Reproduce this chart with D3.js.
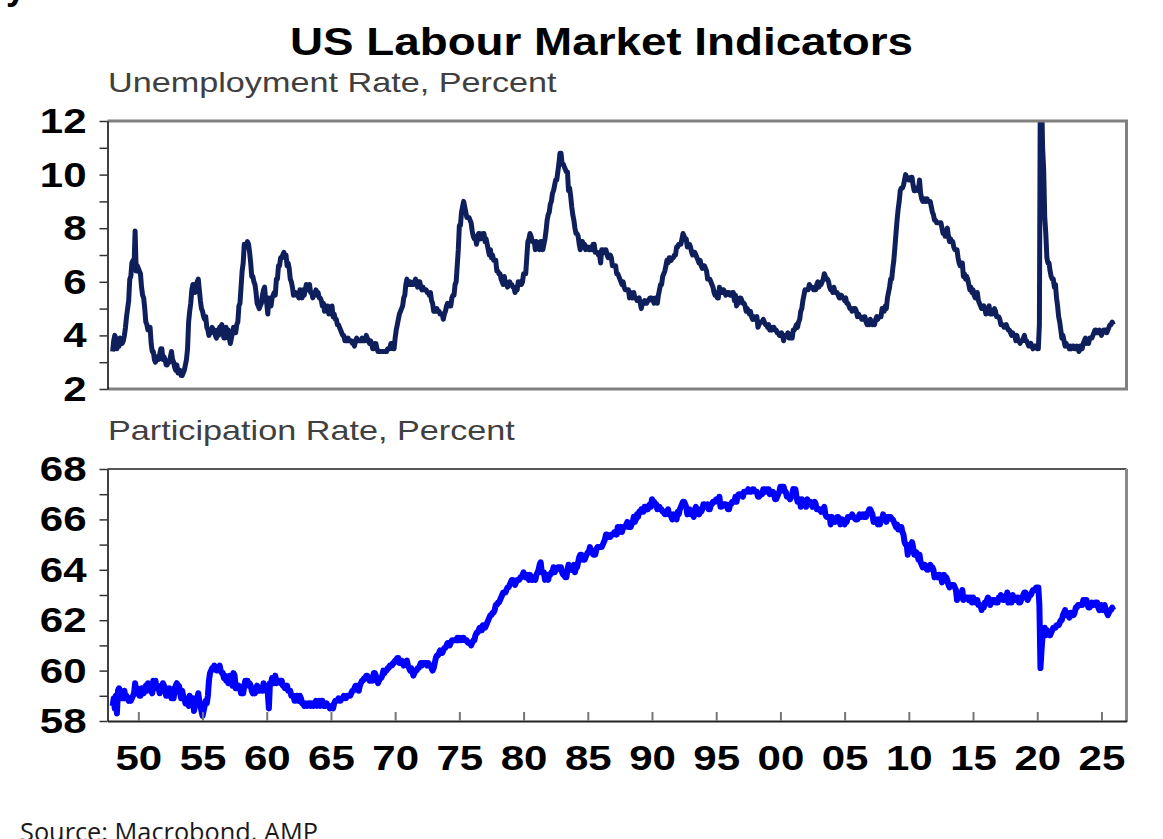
<!DOCTYPE html>
<html>
<head>
<meta charset="utf-8">
<script src="https://cdn.jsdelivr.net/npm/d3@7"></script>
<style>
  html, body { margin: 0; padding: 0; background: #fff; }
  svg { display: block; }
</style>
</head>
<body>
<div id="chart"></div>
<script>
// Monthly data, Jan 1948 - Dec 2025, one row of 12 months per year
const firstYear = 1948;

// Unemployment rate, percent
const unemploymentRate = [
  [3.4,3.8,4.0,3.9,3.5,3.6,3.6,3.9,3.8,3.7,3.8,4.0], // 1948
  [4.3,4.7,5.0,5.3,6.1,6.2,6.7,6.8,6.6,7.9,6.4,6.6],
  [6.5,6.4,6.3,5.8,5.5,5.4,5.0,4.5,4.4,4.2,4.2,4.3], // 1950
  [3.7,3.4,3.4,3.1,3.0,3.2,3.1,3.1,3.3,3.5,3.5,3.1],
  [3.2,3.1,2.9,2.9,3.0,3.0,3.2,3.4,3.1,3.0,2.8,2.7],
  [2.9,2.6,2.6,2.7,2.5,2.5,2.6,2.7,2.9,3.1,3.5,4.5],
  [4.9,5.2,5.7,5.9,5.9,5.6,5.8,6.0,6.1,5.7,5.3,5.0],
  [4.9,4.7,4.6,4.7,4.3,4.2,4.0,4.2,4.1,4.3,4.2,4.2], // 1955
  [4.0,3.9,4.2,4.0,4.3,4.3,4.4,4.1,3.9,3.9,4.3,4.2],
  [4.2,3.9,3.7,3.9,4.1,4.3,4.2,4.1,4.4,4.5,5.1,5.2],
  [5.8,6.4,6.7,7.4,7.4,7.3,7.5,7.4,7.1,6.7,6.2,6.2],
  [6.0,5.9,5.6,5.2,5.1,5.0,5.1,5.2,5.5,5.7,5.8,5.3],
  [5.2,4.8,5.4,5.2,5.1,5.4,5.5,5.6,5.5,6.1,6.1,6.6], // 1960
  [6.6,6.9,6.9,7.0,7.1,6.9,7.0,6.6,6.7,6.5,6.1,6.0],
  [5.8,5.5,5.6,5.6,5.5,5.5,5.4,5.7,5.6,5.4,5.7,5.5],
  [5.7,5.9,5.7,5.7,5.9,5.6,5.6,5.4,5.5,5.5,5.7,5.5],
  [5.6,5.4,5.4,5.3,5.1,5.2,4.9,5.0,5.1,5.1,4.8,5.0],
  [4.9,5.1,4.7,4.8,4.6,4.6,4.4,4.4,4.3,4.2,4.1,4.0], // 1965
  [4.0,3.8,3.8,3.8,3.9,3.8,3.8,3.8,3.7,3.7,3.6,3.8],
  [3.9,3.8,3.8,3.8,3.8,3.9,3.8,3.8,3.8,4.0,3.9,3.8],
  [3.7,3.8,3.7,3.5,3.5,3.7,3.7,3.5,3.4,3.4,3.4,3.4],
  [3.4,3.4,3.4,3.4,3.4,3.5,3.5,3.5,3.7,3.7,3.5,3.5],
  [3.9,4.2,4.4,4.6,4.8,4.9,5.0,5.1,5.4,5.5,5.9,6.1], // 1970
  [5.9,5.9,6.0,5.9,5.9,5.9,6.0,6.1,6.0,5.8,6.0,6.0],
  [5.8,5.7,5.8,5.7,5.7,5.7,5.6,5.6,5.5,5.6,5.3,5.2],
  [4.9,5.0,4.9,5.0,4.9,4.9,4.8,4.8,4.8,4.6,4.8,4.9],
  [5.1,5.2,5.1,5.1,5.1,5.4,5.5,5.5,5.9,6.0,6.6,7.2],
  [8.1,8.1,8.6,8.8,9.0,8.8,8.6,8.4,8.4,8.4,8.3,8.2], // 1975
  [7.9,7.7,7.6,7.7,7.4,7.6,7.8,7.8,7.6,7.7,7.8,7.8],
  [7.5,7.6,7.4,7.2,7.0,7.2,6.9,7.0,6.8,6.8,6.8,6.4],
  [6.4,6.3,6.3,6.1,6.0,5.9,6.2,5.9,6.0,5.8,5.9,6.0],
  [5.9,5.9,5.8,5.8,5.6,5.7,5.7,6.0,5.9,6.0,5.9,6.0],
  [6.3,6.3,6.3,6.9,7.5,7.6,7.8,7.7,7.5,7.5,7.5,7.2], // 1980
  [7.5,7.4,7.4,7.2,7.5,7.5,7.2,7.4,7.6,7.9,8.3,8.5],
  [8.6,8.9,9.0,9.3,9.4,9.6,9.8,9.8,10.1,10.4,10.8,10.8],
  [10.4,10.4,10.3,10.2,10.1,10.1,9.4,9.5,9.2,8.8,8.5,8.3],
  [8.0,7.8,7.8,7.7,7.4,7.2,7.5,7.5,7.3,7.4,7.2,7.3],
  [7.3,7.2,7.2,7.3,7.2,7.4,7.4,7.1,7.1,7.1,7.0,7.0], // 1985
  [6.7,7.2,7.2,7.1,7.2,7.2,7.0,6.9,7.0,7.0,6.9,6.6],
  [6.6,6.6,6.6,6.3,6.3,6.2,6.1,6.0,5.9,6.0,5.8,5.7],
  [5.7,5.7,5.7,5.4,5.6,5.4,5.4,5.6,5.4,5.4,5.3,5.3],
  [5.4,5.2,5.0,5.2,5.2,5.3,5.2,5.2,5.3,5.3,5.4,5.4],
  [5.4,5.3,5.2,5.4,5.4,5.2,5.5,5.7,5.9,5.9,6.2,6.3], // 1990
  [6.4,6.6,6.8,6.7,6.9,6.9,6.8,6.9,6.9,7.0,7.0,7.3],
  [7.3,7.4,7.4,7.4,7.6,7.8,7.7,7.6,7.6,7.3,7.4,7.4],
  [7.3,7.1,7.0,7.1,7.1,7.0,6.9,6.8,6.7,6.8,6.6,6.5],
  [6.6,6.6,6.5,6.4,6.1,6.1,6.1,6.0,5.9,5.8,5.6,5.5],
  [5.6,5.4,5.4,5.8,5.6,5.6,5.7,5.7,5.6,5.5,5.6,5.6], // 1995
  [5.6,5.5,5.5,5.6,5.6,5.3,5.5,5.1,5.2,5.2,5.4,5.4],
  [5.3,5.2,5.2,5.1,4.9,5.0,4.9,4.8,4.9,4.7,4.6,4.7],
  [4.6,4.6,4.7,4.3,4.4,4.5,4.5,4.5,4.6,4.5,4.4,4.4],
  [4.3,4.4,4.2,4.3,4.2,4.3,4.3,4.2,4.2,4.1,4.1,4.0],
  [4.0,4.1,4.0,3.8,4.0,4.0,4.0,4.1,3.9,3.9,3.9,3.9], // 2000
  [4.2,4.2,4.3,4.4,4.3,4.5,4.6,4.9,5.0,5.3,5.5,5.7],
  [5.7,5.7,5.7,5.9,5.8,5.8,5.8,5.7,5.7,5.7,5.9,6.0],
  [5.8,5.9,5.9,6.0,6.1,6.3,6.2,6.1,6.1,6.0,5.8,5.7],
  [5.7,5.6,5.8,5.6,5.6,5.6,5.5,5.4,5.4,5.5,5.4,5.4],
  [5.3,5.4,5.2,5.2,5.1,5.0,5.0,4.9,5.0,5.0,5.0,4.9], // 2005
  [4.7,4.8,4.7,4.7,4.6,4.6,4.7,4.7,4.5,4.4,4.5,4.4],
  [4.6,4.5,4.4,4.5,4.4,4.6,4.7,4.6,4.7,4.7,4.7,5.0],
  [5.0,4.9,5.1,5.0,5.4,5.6,5.8,6.1,6.1,6.5,6.8,7.3],
  [7.8,8.3,8.7,9.0,9.4,9.5,9.5,9.6,9.8,10.0,9.9,9.9],
  [9.8,9.8,9.9,9.9,9.6,9.4,9.4,9.5,9.5,9.4,9.8,9.3], // 2010
  [9.1,9.0,9.0,9.1,9.0,9.1,9.0,9.0,9.0,8.8,8.6,8.5],
  [8.3,8.3,8.2,8.2,8.2,8.2,8.2,8.0,7.8,7.8,7.7,7.9],
  [8.0,7.7,7.5,7.6,7.5,7.5,7.3,7.2,7.2,7.2,6.9,6.7],
  [6.6,6.7,6.7,6.2,6.3,6.1,6.2,6.1,5.9,5.7,5.8,5.6],
  [5.7,5.5,5.4,5.4,5.6,5.3,5.2,5.1,5.0,5.0,5.1,5.0], // 2015
  [4.8,4.9,5.0,5.1,4.8,4.9,4.8,4.9,5.0,4.9,4.7,4.7],
  [4.7,4.6,4.4,4.4,4.4,4.3,4.3,4.4,4.3,4.2,4.2,4.1],
  [4.0,4.1,4.0,4.0,3.8,4.0,3.8,3.8,3.7,3.8,3.8,3.9],
  [4.0,3.8,3.8,3.7,3.6,3.6,3.7,3.6,3.5,3.6,3.6,3.6],
  [3.5,3.5,4.4,14.8,13.2,11.0,10.2,8.4,7.8,6.9,6.7,6.7], // 2020
  [6.4,6.2,6.1,6.1,5.8,5.9,5.4,5.1,4.7,4.5,4.2,3.9],
  [4.0,3.8,3.6,3.7,3.6,3.6,3.5,3.6,3.5,3.6,3.6,3.5],
  [3.5,3.6,3.5,3.4,3.6,3.6,3.5,3.7,3.8,3.9,3.7,3.8],
  [3.7,3.9,3.9,3.9,4.0,4.1,4.2,4.2,4.1,4.1,4.2,4.1],
  [4.0,4.1,4.2,4.2,4.2,4.1,4.2,4.3,4.4,4.4,4.5,4.4]  // 2025
];

// Labour force participation rate, percent
const participationRate = [
  [58.6,58.9,58.5,59.0,58.3,59.2,59.3,59.2,58.9,58.9,58.9,59.2], // 1948
  [58.9,59.0,58.9,58.8,58.9,58.8,58.9,59.0,59.1,59.5,59.2,59.3],
  [59.1,59.0,59.0,59.3,59.2,59.1,59.3,59.4,59.2,59.5,59.4,59.3], // 1950
  [59.2,59.1,59.6,59.4,59.6,59.3,59.4,59.3,59.1,59.4,59.3,59.5],
  [59.4,59.3,59.0,59.0,59.2,59.3,59.1,58.9,59.2,58.9,59.3,59.4],
  [59.5,59.4,59.4,59.1,58.9,59.2,59.0,58.9,58.7,58.8,58.7,58.6],
  [59.0,58.8,58.9,58.9,58.4,58.6,58.7,58.9,59.1,58.8,58.6,58.4],
  [58.2,58.4,58.6,58.8,58.7,59.0,59.6,59.9,60.0,60.1,60.1,60.2], // 1955
  [60.1,60.0,60.0,60.1,60.2,60.0,59.9,59.9,59.7,59.8,59.6,59.7],
  [59.5,59.8,59.8,59.5,59.4,59.9,59.8,59.3,59.4,59.3,59.4,59.3],
  [59.1,59.2,59.1,59.4,59.6,59.6,59.6,59.4,59.5,59.4,59.2,59.1],
  [59.2,59.1,59.3,59.4,59.3,59.2,59.3,59.3,59.2,59.5,59.3,59.4],
  [59.2,59.1,58.5,59.5,59.5,59.7,59.5,59.5,59.8,59.5,59.6,59.6], // 1960
  [59.6,59.5,59.6,59.4,59.4,59.3,59.3,59.4,59.2,59.2,59.2,59.0],
  [59.0,59.0,58.8,58.8,59.0,58.9,58.8,59.0,58.9,58.7,58.7,58.6],
  [58.7,58.6,58.6,58.7,58.7,58.6,58.7,58.6,58.6,58.7,58.8,58.6],
  [58.7,58.8,58.6,58.8,58.8,58.6,58.6,58.6,58.7,58.6,58.6,58.5],
  [58.6,58.6,58.5,58.7,58.8,58.8,58.8,58.9,58.8,58.8,58.9,58.9], // 1965
  [59.0,58.9,58.9,59.0,59.0,59.0,59.0,59.1,59.2,59.2,59.3,59.4],
  [59.4,59.4,59.2,59.4,59.5,59.6,59.6,59.7,59.7,59.8,59.8,59.7],
  [59.6,59.7,59.6,59.6,59.9,59.9,59.8,59.6,59.5,59.6,59.7,59.7],
  [59.8,60.0,59.9,60.0,60.0,60.1,60.1,60.2,60.2,60.2,60.3,60.3],
  [60.4,60.4,60.5,60.5,60.3,60.3,60.4,60.3,60.2,60.3,60.3,60.4], // 1970
  [60.2,60.1,60.0,60.1,60.0,59.8,59.9,60.0,60.0,60.1,60.1,60.2],
  [60.3,60.2,60.3,60.3,60.3,60.3,60.2,60.3,60.2,60.2,60.1,60.0],
  [60.1,60.3,60.5,60.6,60.6,60.7,60.8,60.7,60.7,60.8,60.9,60.9],
  [61.0,61.1,61.1,61.0,61.1,61.2,61.2,61.2,61.2,61.2,61.3,61.2],
  [61.3,61.2,61.2,61.3,61.3,61.2,61.2,61.2,61.1,61.1,61.1,61.0], // 1975
  [61.1,61.2,61.2,61.4,61.5,61.5,61.6,61.7,61.6,61.6,61.8,61.7],
  [61.7,61.8,61.9,62.0,62.1,62.2,62.2,62.3,62.3,62.4,62.6,62.6],
  [62.7,62.7,62.8,62.9,63.0,63.1,63.1,63.1,63.2,63.3,63.3,63.4],
  [63.5,63.6,63.6,63.5,63.4,63.5,63.6,63.6,63.6,63.7,63.7,63.8],
  [63.9,63.8,63.7,63.8,63.7,63.6,63.8,63.7,63.6,63.7,63.7,63.6], // 1980
  [63.8,63.9,64.0,64.2,64.3,63.9,63.9,63.9,63.6,63.8,63.8,63.6],
  [63.8,63.8,63.9,63.9,64.1,63.9,64.0,64.0,64.1,64.1,64.1,64.1],
  [63.9,63.8,63.8,63.7,63.7,64.0,64.2,64.1,64.1,64.0,64.1,64.2],
  [63.9,64.1,64.1,64.3,64.5,64.6,64.6,64.4,64.4,64.4,64.5,64.6],
  [64.7,64.7,64.9,64.8,64.7,64.6,64.6,64.6,64.8,64.9,64.9,64.9], // 1985
  [64.9,64.9,65.0,65.1,65.2,65.4,65.4,65.3,65.3,65.3,65.4,65.4],
  [65.4,65.5,65.5,65.4,65.7,65.5,65.6,65.7,65.5,65.7,65.7,65.7],
  [65.8,65.9,65.7,65.8,65.7,65.8,65.9,66.1,65.9,66.0,66.2,66.1],
  [66.3,66.3,66.4,66.3,66.3,66.5,66.5,66.5,66.4,66.5,66.6,66.5],
  [66.8,66.7,66.7,66.6,66.6,66.4,66.5,66.5,66.4,66.4,66.3,66.3], // 1990
  [66.2,66.2,66.3,66.4,66.2,66.2,66.1,66.0,66.2,66.1,66.1,66.0],
  [66.3,66.2,66.4,66.5,66.6,66.7,66.7,66.6,66.5,66.2,66.3,66.4],
  [66.2,66.2,66.2,66.1,66.4,66.5,66.4,66.4,66.2,66.3,66.3,66.4],
  [66.6,66.6,66.5,66.5,66.6,66.4,66.4,66.6,66.6,66.7,66.7,66.7],
  [66.8,66.8,66.7,66.9,66.5,66.5,66.6,66.6,66.6,66.6,66.5,66.4], // 1995
  [66.4,66.6,66.6,66.7,66.7,66.7,66.9,66.7,66.9,67.0,67.0,67.0],
  [67.0,66.9,67.1,67.1,67.1,67.1,67.2,67.1,67.1,67.1,67.2,67.2],
  [67.1,67.1,67.1,66.9,66.9,67.0,67.0,67.0,67.2,67.2,67.1,67.2],
  [67.2,67.2,67.0,67.1,67.1,67.1,67.0,66.8,66.8,66.9,67.0,67.1],
  [67.3,67.3,67.3,67.3,67.1,67.1,66.9,66.9,66.9,66.8,66.9,67.0], // 2000
  [67.2,67.1,67.2,66.9,66.7,66.7,66.8,66.5,66.8,66.7,66.7,66.7],
  [66.5,66.8,66.6,66.7,66.7,66.6,66.5,66.6,66.7,66.6,66.4,66.4],
  [66.4,66.4,66.3,66.4,66.4,66.5,66.2,66.1,66.1,66.1,66.1,65.8],
  [66.1,66.0,66.0,65.9,66.0,66.1,66.1,66.0,65.8,65.9,66.0,65.9],
  [65.8,65.9,65.9,66.1,66.1,66.1,66.1,66.2,66.1,66.1,66.0,66.0], // 2005
  [66.0,66.1,66.2,66.1,66.1,66.2,66.1,66.2,66.1,66.2,66.3,66.4],
  [66.4,66.3,66.2,65.9,66.0,66.0,66.0,65.8,66.0,65.8,66.0,66.0],
  [66.2,66.0,66.1,65.9,66.1,66.1,66.1,66.1,66.0,66.0,65.9,65.8],
  [65.7,65.8,65.6,65.7,65.7,65.7,65.5,65.4,65.1,65.0,65.0,64.6],
  [64.8,64.9,64.9,65.1,64.9,64.6,64.6,64.7,64.6,64.4,64.6,64.3], // 2010
  [64.2,64.1,64.2,64.2,64.1,64.0,64.0,64.1,64.2,64.1,64.1,64.0],
  [63.7,63.8,63.8,63.7,63.8,63.8,63.7,63.5,63.6,63.8,63.6,63.7],
  [63.6,63.4,63.3,63.4,63.4,63.4,63.4,63.3,63.2,62.8,63.0,62.9],
  [62.9,63.0,63.2,62.8,62.9,62.9,62.9,62.9,62.8,62.9,62.9,62.7],
  [62.9,62.8,62.7,62.7,62.8,62.6,62.6,62.6,62.4,62.5,62.5,62.7], // 2015
  [62.7,62.8,62.9,62.8,62.6,62.7,62.8,62.8,62.8,62.7,62.7,62.7],
  [62.9,62.9,63.0,62.9,62.8,62.8,62.9,62.9,63.1,62.7,62.8,62.7],
  [62.7,63.0,62.9,62.8,62.8,62.9,62.9,62.7,62.7,62.8,62.9,63.0],
  [63.1,63.1,63.0,62.8,62.9,63.0,63.0,63.1,63.2,63.2,63.2,63.3],
  [63.3,63.3,62.6,60.1,60.8,61.4,61.5,61.7,61.4,61.6,61.5,61.5], // 2020
  [61.4,61.5,61.6,61.7,61.7,61.7,61.8,61.8,61.8,61.9,62.0,62.0],
  [62.2,62.3,62.4,62.2,62.3,62.2,62.1,62.3,62.3,62.2,62.2,62.3],
  [62.5,62.5,62.6,62.6,62.6,62.6,62.6,62.8,62.8,62.7,62.8,62.6],
  [62.5,62.5,62.6,62.7,62.6,62.6,62.7,62.7,62.7,62.5,62.4,62.5],
  [62.6,62.4,62.5,62.6,62.4,62.3,62.2,62.3,62.4,62.4,62.5,62.4]  // 2025
];

const xTickYears = [1950,1955,1960,1965,1970,1975,1980,1985,1990,1995,2000,2005,2010,2015,2020,2025];
const unempTicks = [2,3,4,5,6,7,8,9,10,11,12];
const partTicks = [58,59,60,61,62,63,64,65,66,67,68];

// Layout
const W = 1163, H = 839;
const stretch = 1.2;   // the source picture's lettering is widened
const sans = "'Liberation Sans', Arial, sans-serif";

const svg = d3.select("#chart")
  .append("svg")
  .attr("width", W)
  .attr("height", H);

// Scales (x in decimal years)
const x = d3.scaleLinear().domain([1947.6, 2026.95]).range([107.5, 1126.5]);
const yU = d3.scaleLinear().domain([2, 12]).range([389, 121]);
const yP = d3.scaleLinear().domain([58, 68]).range([721, 469]);

const toSeries = rows => rows.flatMap((r, i) => r.map((v, m) => ({ t: firstYear + i + m / 12, v })));
const unemp = toSeries(unemploymentRate);
const part = toSeries(participationRate);

// stretch text horizontally like the original
function widen(sel) {
  sel.each(function () {
    const w = this.getComputedTextLength();
    if (w > 0) d3.select(this).attr("textLength", w * stretch).attr("lengthAdjust", "spacingAndGlyphs");
  });
}

// Clip paths for the two panels
const defs = svg.append("defs");
defs.append("clipPath").attr("id", "clipU").append("rect")
  .attr("x", x.range()[0]).attr("y", yU(12))
  .attr("width", x.range()[1] - x.range()[0]).attr("height", yU(2) - yU(12));
defs.append("clipPath").attr("id", "clipP").append("rect")
  .attr("x", x.range()[0]).attr("y", yP(68))
  .attr("width", x.range()[1] - x.range()[0]).attr("height", yP(58) - yP(68));

// Lines
svg.append("path")
  .datum(unemp)
  .attr("clip-path", "url(#clipU)")
  .attr("fill", "none")
  .attr("stroke", "#0f1f5c")
  .attr("stroke-width", 5)
  .attr("stroke-linejoin", "round")
  .attr("d", d3.line().x(d => x(d.t)).y(d => yU(d.v)));

svg.append("path")
  .datum(part)
  .attr("clip-path", "url(#clipP)")
  .attr("fill", "none")
  .attr("stroke", "#0000ff")
  .attr("stroke-width", 6)
  .attr("stroke-linejoin", "round")
  .attr("d", d3.line().x(d => x(d.t)).y(d => yP(d.v)));

// Frames
const [x0, x1] = x.range();
function frameLine(xa, ya, xb, yb, color, w) {
  svg.append("line")
    .attr("x1", xa).attr("y1", ya).attr("x2", xb).attr("y2", yb)
    .attr("stroke", color).attr("stroke-width", w);
}
frameLine(x0, yU(12), x1 + 1.5, yU(12), "#808080", 3);
frameLine(x0, yU(2), x1 + 1.5, yU(2), "#808080", 3);
frameLine(x1, yU(12), x1, yU(2), "#808080", 3);
frameLine(x0, yP(68), x1, yP(68), "#555", 2);
frameLine(x1, yP(68), x1, yP(58) + 1, "#8a8a8a", 3);

// Y axes
function leftAxis(scale, ticks) {
  const g = svg.append("g")
    .attr("transform", `translate(${x0},0)`)
    .call(d3.axisLeft(scale)
      .tickValues(ticks)
      .tickSize(8)
      .tickSizeOuter(0)
      .tickPadding(13)
      .tickFormat(d => d % 2 === 0 ? d : ""));
  g.select(".domain").attr("stroke", "#000").attr("stroke-width", 1.5);
  g.selectAll(".tick line").attr("stroke", "#333").attr("stroke-width", 1.5);
  g.selectAll("text")
    .attr("font-family", sans)
    .attr("font-weight", "bold")
    .attr("font-size", 35)
    .attr("fill", "#000")
    .attr("dy", "0.33em")
    .call(widen);
}
leftAxis(yU, unempTicks);
leftAxis(yP, partTicks);

// X axis (bottom panel, ticks inside)
const xAxis = svg.append("g")
  .attr("transform", `translate(0,${yP(58)})`)
  .call(d3.axisBottom(x)
    .tickValues(xTickYears)
    .tickSize(-9)
    .tickSizeOuter(0)
    .tickFormat(d => String(d % 100).padStart(2, "0")));
xAxis.select(".domain").attr("stroke", "#222").attr("stroke-width", 2);
xAxis.selectAll(".tick line").attr("stroke", "#777").attr("stroke-width", 2);
xAxis.selectAll("text")
  .attr("y", 49)
  .attr("dy", null)
  .attr("font-family", sans)
  .attr("font-weight", "bold")
  .attr("font-size", 35)
  .attr("fill", "#000")
  .call(widen);

// Titles
svg.append("text")
  .attr("x", 601.5)
  .attr("y", 55)
  .attr("text-anchor", "middle")
  .attr("font-family", sans)
  .attr("font-weight", "bold")
  .attr("font-size", 38)
  .attr("fill", "#000")
  .attr("textLength", 623)
  .attr("lengthAdjust", "spacingAndGlyphs")
  .text("US Labour Market Indicators");

svg.append("text")
  .attr("x", 108)
  .attr("y", 92)
  .attr("font-family", sans)
  .attr("font-size", 28.5)
  .attr("fill", "#404040")
  .text("Unemployment Rate, Percent")
  .call(widen);

svg.append("text")
  .attr("x", 108)
  .attr("y", 440)
  .attr("font-family", sans)
  .attr("font-size", 28.5)
  .attr("fill", "#404040")
  .text("Participation Rate, Percent")
  .call(widen);

// Source line, cut by the bottom edge as in the original
svg.append("text")
  .attr("x", 20)
  .attr("y", 841)
  .attr("font-family", "'Open Sans', 'Noto Sans', sans-serif")
  .attr("font-size", 26)
  .attr("fill", "#1a1a1a")
  .attr("textLength", 298)
  .attr("lengthAdjust", "spacingAndGlyphs")
  .text("Source: Macrobond, AMP");

// stray descender left over at the top-left corner of the original
svg.append("text")
  .attr("x", 6)
  .attr("y", -1)
  .attr("font-family", sans)
  .attr("font-weight", "bold")
  .attr("font-size", 36)
  .attr("fill", "#000")
  .text("y");
</script>
</body>
</html>
